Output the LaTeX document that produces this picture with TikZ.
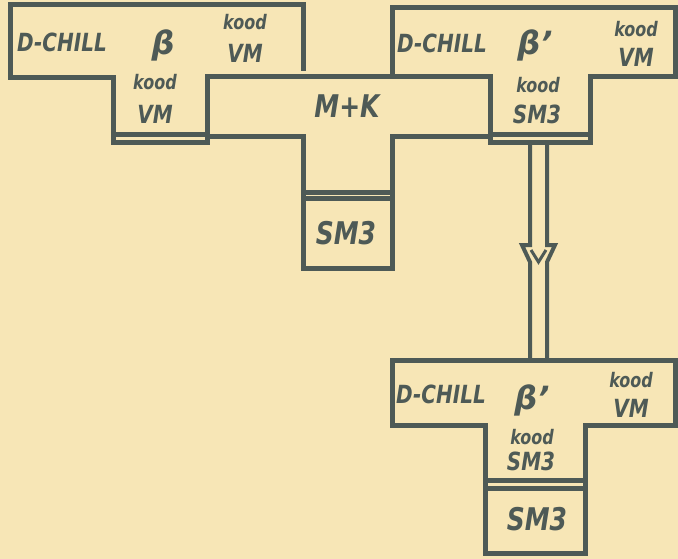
\documentclass[tikz,border=0pt]{standalone}
\usepackage{fontspec}
\usepackage{graphicx}
\setmainfont{DejaVu Sans}
\definecolor{paper}{RGB}{247,230,182}
\definecolor{ink}{RGB}{78,90,86}
\newcommand\tallx[1]{\scalebox{1}[1.25]{#1}}
\tikzset{
  wall/.style={draw=ink, line width=5pt, line join=miter, line cap=rect},
  lbl/.style={text=ink, inner sep=0pt},
  lang/.style={lbl, font=\bfseries\itshape\fontsize{20}{20}\selectfont},
  small/.style={lbl, font=\bfseries\itshape\fontsize{16}{16}\selectfont},
  mid/.style={lbl, font=\bfseries\itshape\fontsize{20}{20}\selectfont},
  big/.style={lbl, font=\bfseries\itshape\fontsize{25}{25}\selectfont},
  greek/.style={lbl, font=\bfseries\itshape\fontsize{32}{32}\selectfont}
}
\begin{document}
\begin{tikzpicture}[x=1pt,y=-1pt]
\fill[paper] (0,0) rectangle (678,559);
\useasboundingbox (0,0) rectangle (678,559);

% beta T (top left)
\draw[wall] (303,69) -- (303,5) -- (10,5) -- (10,78) -- (113,78) -- (113,143) -- (207,143);
\draw[wall] (113,135) -- (207,135);
% M+K T with SM3
\draw[wall] (207,143) -- (207,77) -- (490,77) -- (490,137) -- (392,137) -- (392,268) -- (303,268) -- (303,137) -- (207,137);
\draw[wall] (303,193) -- (392,193);
\draw[wall] (303,199) -- (392,199);
% beta' T (top right)
\draw[wall] (392,77) -- (392,8) -- (675,8) -- (675,77) -- (590,77) -- (590,143) -- (490,143) -- (490,77);
\draw[wall] (490,135) -- (590,135);
% double arrow
\coordinate (aT1) at (530,143);
\coordinate (aT2) at (547,143);
\coordinate (aB1) at (530,360);
\coordinate (aB2) at (547,360);
\draw[draw=ink, line width=4pt, line join=miter] (aT1) -- (530,245) -- (522,245) -- (530,262) -- (aB1);
\draw[draw=ink, line width=4pt, line join=miter] (aT2) -- (547,245) -- (555,245) -- (547,262) -- (aB2);
\draw[draw=ink, line width=3pt] (531,250) -- (538.5,262) -- (546,250);
% beta' T (bottom)
\draw[wall] (392,360) -- (675,360) -- (675,425) -- (585,425) -- (585,553) -- (485,553) -- (485,425) -- (392,425) -- cycle;
\draw[wall] (485,480) -- (585,480);
\draw[wall] (485,488) -- (585,488);

% texts top-left
\node[lang] (dc1) at (62,42) {\tallx{D-CHILL}};
\node[greek] (b1) at (163,45) {β};
\node[small] (k1) at (245,22) {\tallx{kood}};
\node[mid] (v1) at (245,53) {\tallx{VM}};
\node[small] (k2) at (155,82) {\tallx{kood}};
\node[mid] (v2) at (155,114) {\tallx{VM}};
\node[big] (mk) at (347,106) {\tallx{M+K}};
\node[big] (s1) at (346,233) {\tallx{SM3}};
% texts top-right
\node[lang] (dc2) at (442,43) {\tallx{D-CHILL}};
\node[greek] (b2) at (535,45) {β’};
\node[small] (k3) at (636,29) {\tallx{kood}};
\node[mid] (v3) at (636,57) {\tallx{VM}};
\node[small] (k4) at (538,85) {\tallx{kood}};
\node[mid] (s2) at (537,114) {\tallx{SM3}};
% texts bottom
\node[lang] (dc3) at (441,394) {\tallx{D-CHILL}};
\node[greek] (b3) at (532,400) {β’};
\node[small] (k5) at (631,380) {\tallx{kood}};
\node[mid] (v5) at (631,408) {\tallx{VM}};
\node[small] (k6) at (532,437) {\tallx{kood}};
\node[mid] (s3) at (531,461) {\tallx{SM3}};
\node[big] (s4) at (537,519) {\tallx{SM3}};
\end{tikzpicture}
\end{document}
